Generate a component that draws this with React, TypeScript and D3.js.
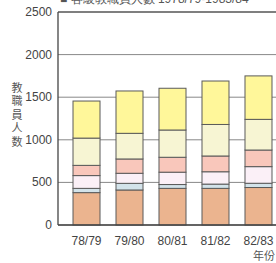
import React from 'react';
import * as d3 from 'd3';

// 教職員人数 by school year (stacked, bottom to top)
const years = ["78/79", "79/80", "80/81", "81/82", "82/83"];
const seriesNames = ["s1", "s2", "s3", "s4", "s5", "s6"];
const s1 = [380, 411, 430, 430, 440];
const s2 = [50, 78, 45, 50, 50];
const s3 = [150, 118, 145, 145, 195];
const s4 = [120, 168, 175, 185, 195];
const s5 = [320, 301, 320, 370, 360];
const s6 = [435, 497, 490, 510, 510];
const colors = ["#ebb48f", "#d3e3ea", "#fbf0f7", "#f9c7bb", "#f7f5d3", "#fff79a"];
const yTicks = [0, 500, 1000, 1500, 2000, 2500];

const W = 276;
const H = 263;

export default function App() {
  const x = d3.scaleBand<string>()
    .domain(years)
    .range([58, 287])
    .paddingInner(0.372)
    .paddingOuter(0.349);

  const y = d3.scaleLinear().domain([0, 2500]).range([225, 12]);

  const rows = years.map((yr, i) => ({
    year: yr, s1: s1[i], s2: s2[i], s3: s3[i], s4: s4[i], s5: s5[i], s6: s6[i],
  }));
  const stacked = d3.stack<any>().keys(seriesNames)(rows);

  const font = '"Liberation Sans", Arial, sans-serif';
  const cjk = '"Noto Sans CJK TC", sans-serif';

  return (
    <svg width={W} height={H} style={{ position: 'absolute', left: 0, top: 0, background: '#fff' }}>
      {/* title, mostly cut off at the top edge */}
      <text x={60} y={3} fontSize={12} fill="#555" fontFamily={font}>■ 各級教職員人數 1978/79-1983/84</text>

      {yTicks.map(t => (
        <g key={t}>
          <line x1={58} x2={W} y1={y(t)} y2={y(t)} stroke={t === 2500 ? "#555" : "#888"} strokeWidth={t === 2500 ? 1.3 : 1} />
          <text x={52} y={y(t) + 4} textAnchor="end" fontSize={12} fill="#444" fontFamily={font}>{t}</text>
        </g>
      ))}

      {stacked.map((layer, k) => (
        <g key={k} fill={colors[k]}>
          {layer.map((d, i) => (
            <rect key={i}
              x={x(years[i])!}
              y={y(d[1])}
              width={x.bandwidth()}
              height={y(d[0]) - y(d[1])}
              stroke="#5a5a5a" strokeWidth={1} />
          ))}
        </g>
      ))}

      <line x1={58} x2={58} y1={y(2500)} y2={y(0)} stroke="#444" strokeWidth={1.3} />
      <line x1={58} x2={W} y1={y(0)} y2={y(0)} stroke="#444" strokeWidth={1.3} />

      {years.map(yr => (
        <text key={yr} x={x(yr)! + x.bandwidth() / 2} y={245} textAnchor="middle" fontSize={12} fill="#444" fontFamily={font}>{yr}</text>
      ))}

      <text x={264} y={260} textAnchor="middle" fontSize={11} fill="#555" fontFamily={cjk}>年份</text>

      <text x={17} y={82} writingMode="vertical-rl" letterSpacing={2.5} fontSize={11} fill="#555" fontFamily={cjk}>教職員人数</text>
    </svg>
  );
}
